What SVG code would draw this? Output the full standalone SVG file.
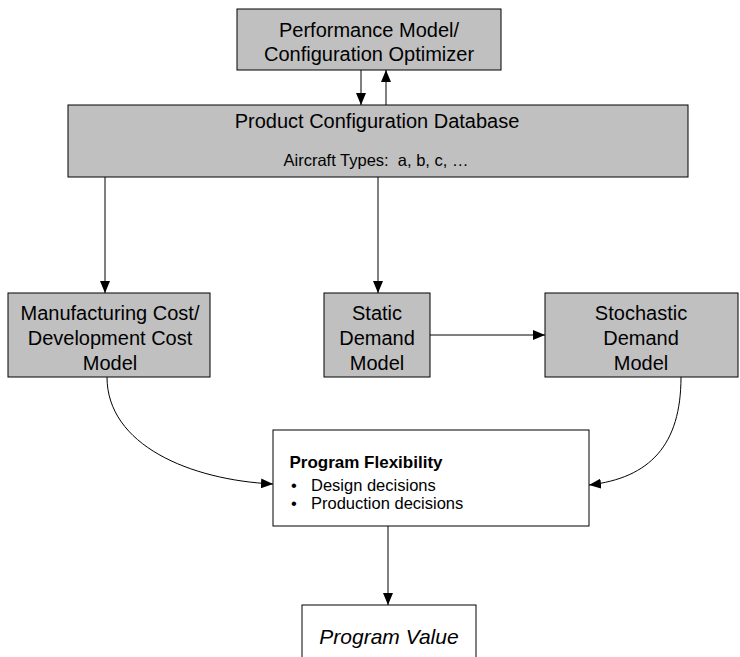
<svg xmlns="http://www.w3.org/2000/svg" width="740" height="657" viewBox="0 0 740 657">
<style>
.box{fill:#c0c0c0;stroke:#000;stroke-width:1}
.wbox{fill:#fff;stroke:#000;stroke-width:1}
.t{font-family:"Liberation Sans",Arial,sans-serif;font-size:20px;fill:#000;text-anchor:middle}
.s{font-family:"Liberation Sans",Arial,sans-serif;font-size:16.5px;fill:#000}
.c{fill:none;stroke:#000;stroke-width:1}
</style>
<defs>
<marker id="ah" viewBox="0 0 12 10" refX="12" refY="5" markerWidth="12" markerHeight="10" markerUnits="userSpaceOnUse" orient="auto">
<path d="M0,0 L12,5 L0,10 Z" fill="#000"/>
</marker>
</defs>
<g id="connectors">
<path class="c" d="M361,70 V105" marker-end="url(#ah)"/>
<path class="c" d="M386,105 V70" marker-end="url(#ah)"/>
<path class="c" d="M105,177 V293" marker-end="url(#ah)"/>
<path class="c" d="M378,177 V293" marker-end="url(#ah)"/>
<path class="c" d="M430,335 H545" marker-end="url(#ah)"/>
<path class="c" d="M107,377 C107,445 190,480 273,484" marker-end="url(#ah)"/>
<path class="c" d="M681,377 C681,445 650,478 589,485" marker-end="url(#ah)"/>
<path class="c" d="M388,526 V605" marker-end="url(#ah)"/>
</g>
<g id="performance-model">
<rect class="box" x="237" y="9" width="264" height="61"/>
<text class="t" x="369" y="37">Performance Model/</text>
<text class="t" x="369" y="61">Configuration Optimizer</text>
</g>
<g id="product-db">
<rect class="box" x="68" y="105" width="620" height="72"/>
<text class="t" x="377" y="128">Product Configuration Database</text>
<text class="t" x="376" y="166" style="font-size:16.5px;white-space:pre" xml:space="preserve">Aircraft Types:  a, b, c, …</text>
</g>
<g id="manufacturing">
<rect class="box" x="8" y="293" width="202" height="84"/>
<text class="t" x="110" y="320">Manufacturing Cost/</text>
<text class="t" x="110" y="345">Development Cost</text>
<text class="t" x="110" y="370">Model</text>
</g>
<g id="static-demand">
<rect class="box" x="324" y="293" width="106" height="84"/>
<text class="t" x="377" y="320">Static</text>
<text class="t" x="377" y="345">Demand</text>
<text class="t" x="377" y="370">Model</text>
</g>
<g id="stochastic-demand">
<rect class="box" x="545" y="293" width="193" height="84"/>
<text class="t" x="641" y="320">Stochastic</text>
<text class="t" x="641" y="345">Demand</text>
<text class="t" x="641" y="370">Model</text>
</g>
<g id="program-flexibility">
<rect class="wbox" x="273" y="430" width="316" height="96"/>
<text class="t" x="366" y="468" style="font-weight:bold;font-size:17px">Program Flexibility</text>
<text class="s" x="291" y="491">•</text>
<text class="s" x="311" y="491">Design decisions</text>
<text class="s" x="291" y="509">•</text>
<text class="s" x="311" y="509">Production decisions</text>
</g>
<g id="program-value">
<rect class="wbox" x="302" y="605" width="174" height="60"/>
<text class="t" x="389" y="644" style="font-style:italic;font-size:21px">Program Value</text>
</g>
</svg>
